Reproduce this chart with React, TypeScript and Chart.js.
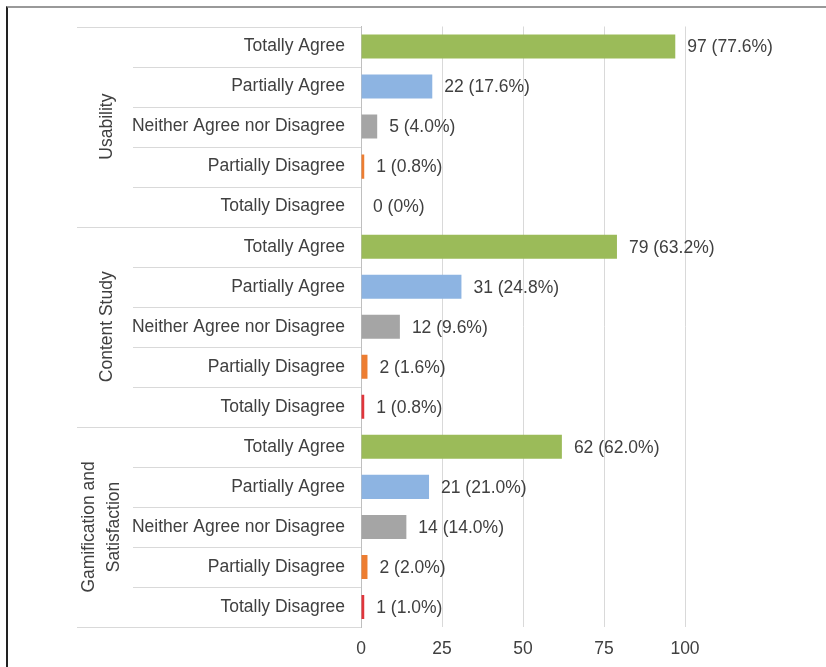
import React, { useEffect, useRef } from "react";
import { Chart, registerables } from "chart.js";

Chart.register(...registerables);

const responseLevels = [
  "Totally Agree",
  "Partially Agree",
  "Neither Agree nor Disagree",
  "Partially Disagree",
  "Totally Disagree",
];
const groupNames: string[][] = [["Usability"], ["Content Study"], ["Gamification and", "Satisfaction"]];
const usabilityValues = [97, 22, 5, 1, 0];
const usabilityPercents = ["77.6%", "17.6%", "4.0%", "0.8%", "0%"];
const contentValues = [79, 31, 12, 2, 1];
const contentPercents = ["63.2%", "24.8%", "9.6%", "1.6%", "0.8%"];
const gamificationValues = [62, 21, 14, 2, 1];
const gamificationPercents = ["62.0%", "21.0%", "14.0%", "2.0%", "1.0%"];
const levelColors = ["#9BBB59", "#8DB4E2", "#A5A5A5", "#ED7D31", "#E0353B"];
const xTicks = [0, 25, 50, 75, 100];

const FONT = "'Liberation Sans', Arial, sans-serif";
const TEXT = "#404040";
const FS = 17.5;

export default function App() {
  const ref = useRef<HTMLCanvasElement | null>(null);

  useEffect(() => {
    if (!ref.current) return;
    const labels = [...responseLevels, ...responseLevels, ...responseLevels];
    const values = [...usabilityValues, ...contentValues, ...gamificationValues];
    const percents = [...usabilityPercents, ...contentPercents, ...gamificationPercents];
    const colors = [...levelColors, ...levelColors, ...levelColors];

    const overlay = {
      id: "overlay",
      afterDraw(chart: any) {
        const ctx = chart.ctx as CanvasRenderingContext2D;
        const yScale = chart.scales.y;
        const area = chart.chartArea;
        const n = labels.length;
        const rowH = (area.bottom - area.top) / n;
        ctx.save();
        // separators
        ctx.strokeStyle = "#D9D9D9";
        ctx.lineWidth = 1;
        for (let i = 0; i <= n; i++) {
          const y = Math.round(yScale.getPixelForValue(Math.min(i, n - 1)) + (i === n ? rowH / 2 : -rowH / 2)) + 0.5;
          const x0 = i % responseLevels.length === 0 ? 77 : 133;
          ctx.beginPath();
          ctx.moveTo(x0, y);
          ctx.lineTo(area.left, y);
          ctx.stroke();
        }
        // group labels
        ctx.fillStyle = TEXT;
        ctx.font = `${FS}px ${FONT}`;
        ctx.textAlign = "center";
        ctx.textBaseline = "middle";
        groupNames.forEach((lines, g) => {
          const first = g * responseLevels.length;
          const last = first + responseLevels.length - 1;
          const cy = (yScale.getPixelForValue(first) + yScale.getPixelForValue(last)) / 2;
          ctx.save();
          ctx.translate(lines.length > 1 ? 102 : 107, cy);
          ctx.rotate(-Math.PI / 2);
          lines.forEach((line, j) => {
            ctx.fillText(line, 0, (j - (lines.length - 1) / 2) * 25);
          });
          ctx.restore();
        });
        // data labels
        ctx.textAlign = "left";
        const meta = chart.getDatasetMeta(0);
        meta.data.forEach((bar: any, i: number) => {
          ctx.fillText(`${values[i]} (${percents[i]})`, bar.x + 12, bar.y + 1);
        });
        ctx.restore();
      },
    };

    const chart = new Chart(ref.current, {
      type: "bar",
      data: {
        labels,
        datasets: [
          {
            data: values,
            backgroundColor: colors,
            borderWidth: 0,
            categoryPercentage: 1,
            barPercentage: 0.6,
          },
        ],
      },
      options: {
        indexAxis: "y",
        animation: false,
        responsive: false,
        maintainAspectRatio: false,
        devicePixelRatio: 1,
        layout: { padding: { left: 0, top: 25, right: 141, bottom: 10 } },
        plugins: { legend: { display: false }, tooltip: { enabled: false } },
        scales: {
          x: {
            type: "linear",
            min: 0,
            max: 100,
            afterBuildTicks(scale: any) {
              scale.ticks = xTicks.map((v) => ({ value: v }));
            },
            afterFit(scale: any) {
              scale.height = 30;
            },
            grid: { color: "#D9D9D9", lineWidth: 1, drawTicks: false },
            border: { display: false },
            ticks: { color: TEXT, font: { family: FONT, size: FS }, padding: 12 },
          },
          y: {
            type: "category",
            afterFit(scale: any) {
              scale.width = 361;
            },
            grid: { display: false, drawTicks: false },
            border: { display: true, color: "#BFBFBF", width: 1 },
            ticks: { color: TEXT, font: { family: FONT, size: FS }, padding: 16, autoSkip: false },
          },
        },
      },
      plugins: [overlay],
    });
    return () => chart.destroy();
  }, []);

  return (
    <div style={{ position: "fixed", left: 0, top: 0, width: 826, height: 667, background: "#fff" }}>
      <div
        style={{
          position: "absolute",
          left: 6,
          top: 6,
          right: 0,
          bottom: 0,
          borderLeft: "2px solid #222",
          borderTop: "2px solid #999",
        }}
      />
      <canvas ref={ref} width={826} height={667} style={{ position: "absolute", left: 0, top: 0 }} />
    </div>
  );
}
